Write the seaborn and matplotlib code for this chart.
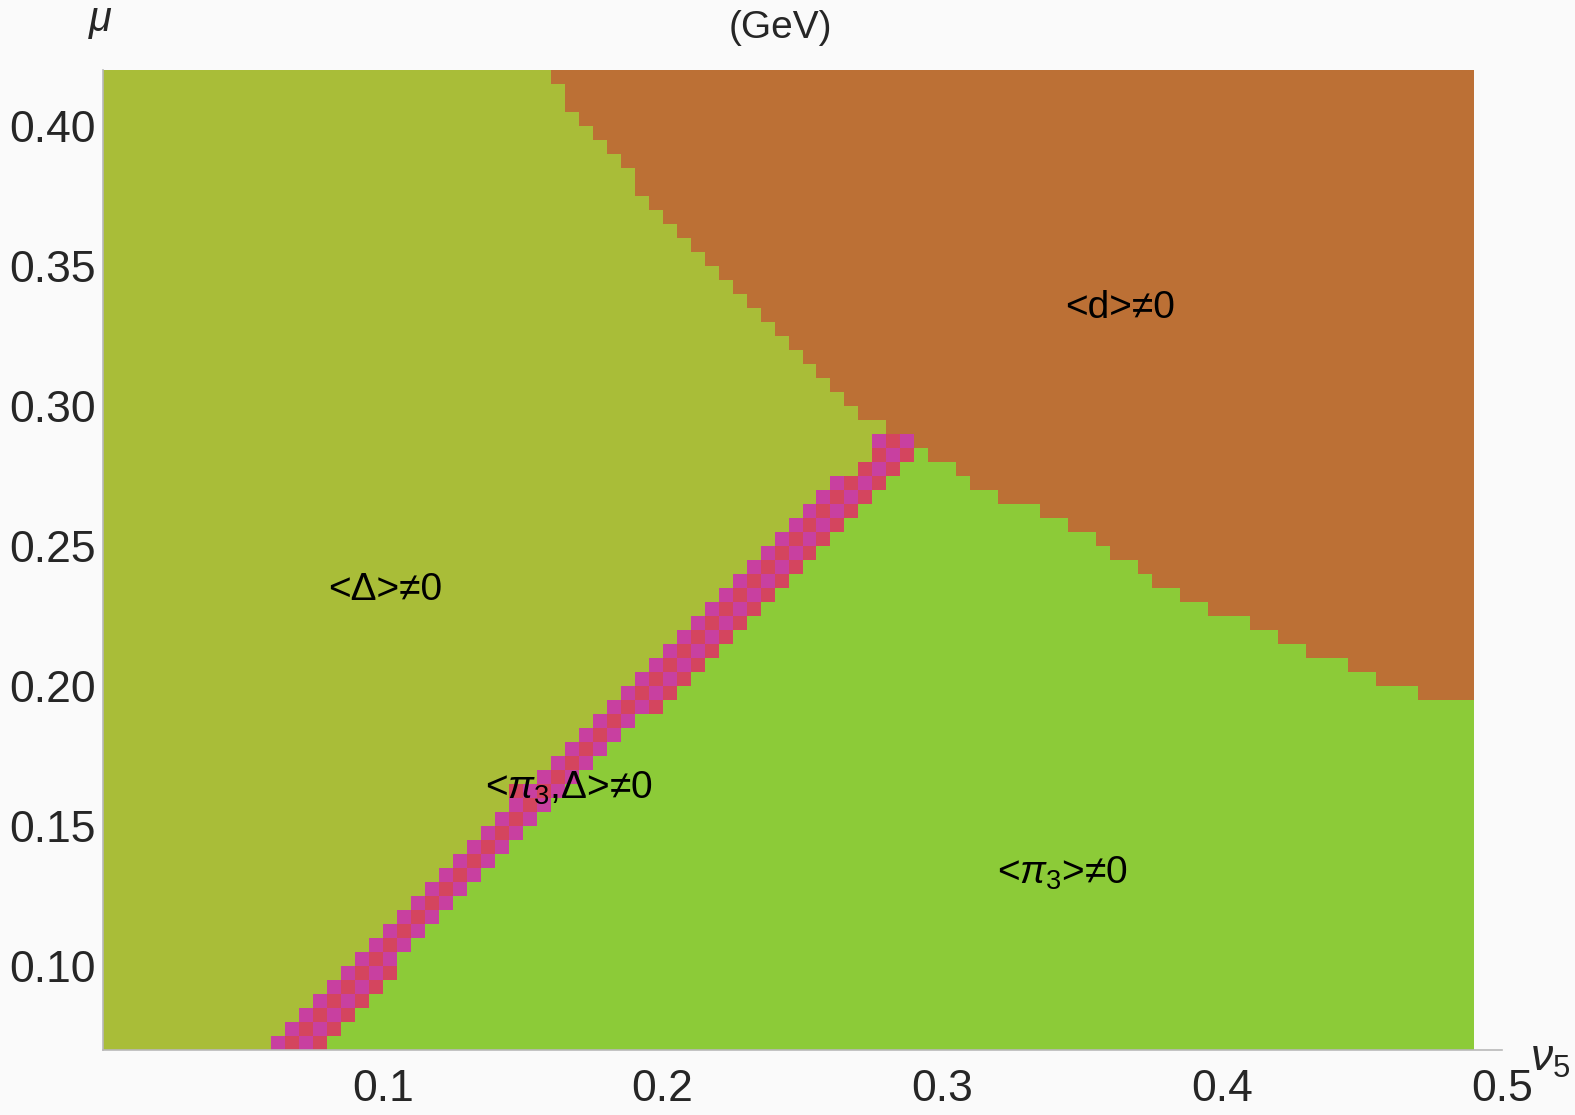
import numpy as np
import pandas as pd
import seaborn as sns
import matplotlib
matplotlib.use("Agg")
import matplotlib.pyplot as plt
from matplotlib.colors import ListedColormap

# ---------------- data ----------------
# grid of the phase scan
nu_min, nu_max, nu_step = 0.0, 0.49, 0.005
mu_min, mu_max, mu_step = 0.07, 0.42, 0.005

# boundary <Delta> / <d>  (given mu -> nu)
dd_mu = [0.288, 0.30, 0.32, 0.34, 0.36, 0.38, 0.40, 0.42]
dd_nu = [0.287, 0.267, 0.248, 0.229, 0.205, 0.190, 0.170, 0.158]

# boundary <pi3> / <d>  (given nu -> mu)
dp_nu = [0.287, 0.300, 0.321, 0.335, 0.355, 0.375, 0.392, 0.409, 0.426, 0.449, 0.466, 0.490]
dp_mu = [0.288, 0.279, 0.268, 0.263, 0.253, 0.238, 0.229, 0.2225, 0.2146, 0.2064, 0.198, 0.194]

# mixed phase <pi3, Delta> band (centre line, half width in nu)
band_mu = [0.07, 0.1636, 0.287]
band_nu = [0.066, 0.158, 0.287]
band_halfwidth = 0.0095

phase_colors = ["#A9BD38", "#8CCB38", "#BC7035", "#D4455E", "#C840A0"]

region_labels = ["<Δ>≠0", "<d>≠0", "<$\\pi_3$,Δ>≠0", "<$\\pi_3$>≠0"]
label_nu = [0.101, 0.3636, 0.1664, 0.343]
label_mu = [0.2343, 0.335, 0.1636, 0.1332]

xticks = [0.1, 0.2, 0.3, 0.4, 0.5]
xtick_labels = ["0.1", "0.2", "0.3", "0.4", "0.5"]
yticks = [0.10, 0.15, 0.20, 0.25, 0.30, 0.35, 0.40]
ytick_labels = ["0.10", "0.15", "0.20", "0.25", "0.30", "0.35", "0.40"]

# ---------------- build the phase grid ----------------
nx = int(round((nu_max - nu_min) / nu_step))
ny = int(round((mu_max - mu_min) / mu_step))
nu_c = nu_min + (np.arange(nx) + 0.5) * nu_step
mu_c = mu_max - (np.arange(ny) + 0.5) * mu_step  # top row first

grid = np.ones((ny, nx), dtype=int)
for r, mu in enumerate(mu_c):
    bc = np.interp(mu, band_mu, band_nu)
    for c, nu in enumerate(nu_c):
        if mu >= 0.288:
            cat = 2 if nu > np.interp(mu, dd_mu, dd_nu) else 0
        else:
            if nu > 0.287 and mu > np.interp(nu, dp_nu, dp_mu):
                cat = 2
            elif nu < bc - band_halfwidth:
                cat = 0
            elif abs(nu - bc) <= band_halfwidth:
                cat = 3 + ((r + c) % 2)
            else:
                cat = 1
        grid[r, c] = cat

df = pd.DataFrame(grid, index=np.round(mu_c, 4), columns=np.round(nu_c, 4))

# ---------------- plot ----------------
sns.set_style("white")
plt.rcParams["font.family"] = ["Liberation Sans", "DejaVu Sans"]
plt.rcParams["mathtext.fontset"] = "custom"
plt.rcParams["mathtext.rm"] = "Liberation Sans"
plt.rcParams["mathtext.it"] = "Liberation Sans:italic"

fig = plt.figure(figsize=(15.75, 11.15), dpi=100, facecolor="#FAFAFA")
ax = fig.add_axes([103 / 1575, 1 - 1050 / 1115, (1502 - 103) / 1575, (1050 - 70) / 1115])
ax.set_facecolor("#FAFAFA")

sns.heatmap(df, ax=ax, cmap=ListedColormap(phase_colors), vmin=-0.5, vmax=4.5,
            cbar=False, xticklabels=False, yticklabels=False, linewidths=0)

def hx(nu):
    return (nu - nu_min) / nu_step

def hy(mu):
    return (mu_max - mu) / mu_step

ax.set_xlim(hx(0.0), hx(0.5))
ax.set_ylim(hy(0.07), hy(0.42))

ax.set_xticks([hx(v) for v in xticks])
ax.set_xticklabels(xtick_labels)
ax.set_yticks([hy(v) for v in yticks])
ax.set_yticklabels(ytick_labels)
ax.set_xlabel("")
ax.set_ylabel("")
ax.tick_params(axis="x", labelsize=32, pad=14, direction="in", length=8,
               color="#B0B0B0", width=1.2)
ax.tick_params(axis="y", labelsize=32, pad=5, direction="in", length=0)
for lab in ax.get_xticklabels() + ax.get_yticklabels():
    lab.set_rotation(0)

for side in ["top", "right"]:
    ax.spines[side].set_visible(False)
for side in ["left", "bottom"]:
    ax.spines[side].set_visible(True)
    ax.spines[side].set_color("#B8B8B8")
    ax.spines[side].set_linewidth(1.2)

for txt, nu, mu in zip(region_labels, label_nu, label_mu):
    ax.text(hx(nu), hy(mu), txt, ha="center", va="center", fontsize=28, color="black")

fig.text(100 / 1575, 1 - 20 / 1115, "μ", fontsize=30, style="italic", ha="center", va="center")
fig.text(780 / 1575, 1 - 28 / 1115, "(GeV)", fontsize=28, ha="center", va="center")
fig.text(1550 / 1575, 1 - 1060 / 1115, "$\\nu_5$", fontsize=32, ha="center", va="center")

fig.savefig("out.png", dpi=100, facecolor=fig.get_facecolor())
